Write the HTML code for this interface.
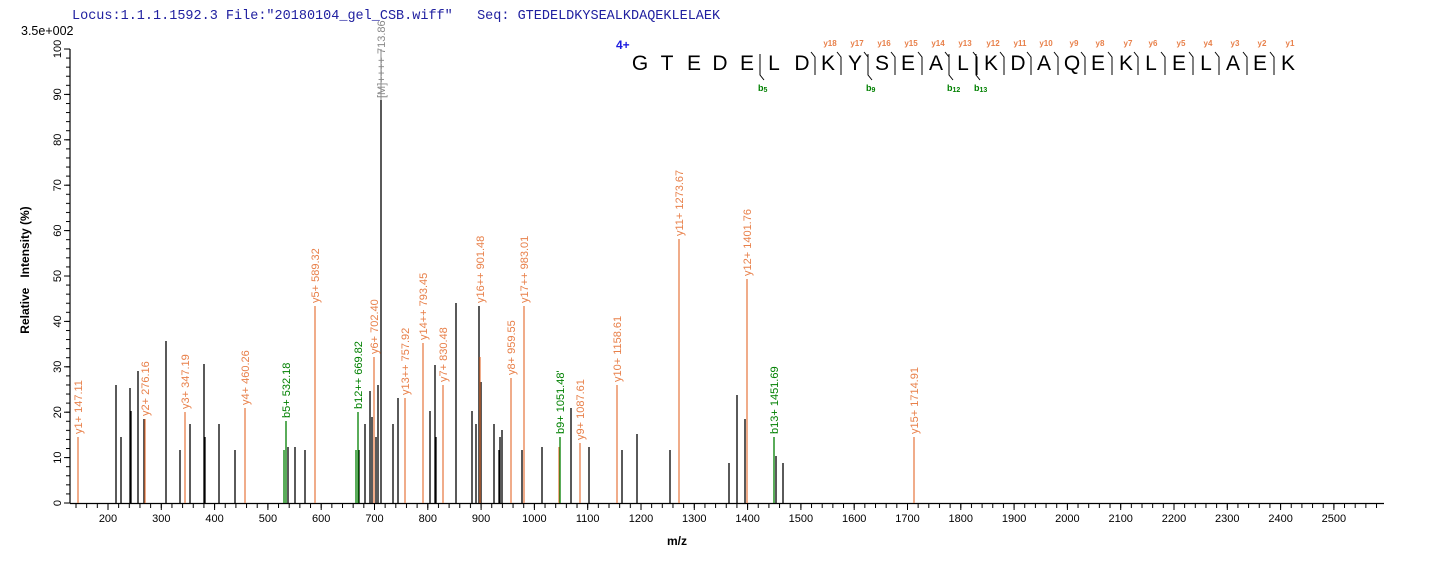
<!DOCTYPE html>
<html><head><meta charset="utf-8"><style>
html,body{margin:0;padding:0;background:#fff;}
svg{display:block;font-family:"Liberation Sans",Arial,sans-serif;}
text{white-space:pre;}
.o{stroke:#e8804a;stroke-width:1.3}
.g{stroke:#008000;stroke-width:1.3}
.k{stroke:#000;stroke-width:1.3}
.lo{fill:#e8804a;font-size:11px}
.lg{fill:#008000;font-size:11px}
</style></head><body>
<svg width="1436" height="562" viewBox="0 0 1436 562" xmlns="http://www.w3.org/2000/svg" xml:space="preserve">
<defs>
<pattern id="pmin" patternUnits="userSpaceOnUse" x="75.5" y="0" width="10.66" height="20"><line x1="0.5" y1="0" x2="0.5" y2="20" stroke="#000" stroke-width="1"/></pattern>
<pattern id="pmaj" patternUnits="userSpaceOnUse" x="107.5" y="0" width="53.3" height="20"><line x1="0.5" y1="0" x2="0.5" y2="20" stroke="#000" stroke-width="1"/></pattern>
<pattern id="pym" patternUnits="userSpaceOnUse" x="0" y="48.5" width="10" height="9.08"><line x1="0" y1="0.5" x2="10" y2="0.5" stroke="#000" stroke-width="1"/></pattern>
</defs>
<text x="72" y="19" font-family="Liberation Mono,monospace" font-size="13.5" fill="#2020a0">Locus:1.1.1.1592.3 File:"20180104_gel_CSB.wiff"   Seq: GTEDELDKYSEALKDAQEKLELAEK</text>
<text x="21" y="35" font-size="12.5" fill="#000">3.5e+002</text>

<!-- axes -->
<line x1="70" y1="49" x2="70" y2="503.5" stroke="#000" stroke-width="1.2"/>
<line x1="70" y1="503.5" x2="1384" y2="503.5" stroke="#000" stroke-width="1.2"/>
<rect x="66" y="49" width="4" height="455" fill="url(#pym)"/>
<g stroke="#000" stroke-width="1">
<line x1="64" y1="503" x2="70" y2="503"/><line x1="64" y1="457.6" x2="70" y2="457.6"/><line x1="64" y1="412.2" x2="70" y2="412.2"/><line x1="64" y1="366.8" x2="70" y2="366.8"/><line x1="64" y1="321.4" x2="70" y2="321.4"/><line x1="64" y1="276" x2="70" y2="276"/><line x1="64" y1="230.6" x2="70" y2="230.6"/><line x1="64" y1="185.2" x2="70" y2="185.2"/><line x1="64" y1="139.8" x2="70" y2="139.8"/><line x1="64" y1="94.4" x2="70" y2="94.4"/><line x1="64" y1="49" x2="70" y2="49"/>
</g>
<rect x="75" y="503" width="1303" height="5" fill="url(#pmin)"/>
<rect x="107" y="503" width="1230" height="7" fill="url(#pmaj)"/>
<g font-size="11" fill="#000">
<text transform="translate(61,503) rotate(-90)" text-anchor="middle">0</text>
<text transform="translate(61,457.6) rotate(-90)" text-anchor="middle">10</text>
<text transform="translate(61,412.2) rotate(-90)" text-anchor="middle">20</text>
<text transform="translate(61,366.8) rotate(-90)" text-anchor="middle">30</text>
<text transform="translate(61,321.4) rotate(-90)" text-anchor="middle">40</text>
<text transform="translate(61,276) rotate(-90)" text-anchor="middle">50</text>
<text transform="translate(61,230.6) rotate(-90)" text-anchor="middle">60</text>
<text transform="translate(61,185.2) rotate(-90)" text-anchor="middle">70</text>
<text transform="translate(61,139.8) rotate(-90)" text-anchor="middle">80</text>
<text transform="translate(61,94.4) rotate(-90)" text-anchor="middle">90</text>
<text transform="translate(61,49) rotate(-90)" text-anchor="middle">100</text>
</g>
<g font-size="11" fill="#000" text-anchor="middle">
<text x="108" y="522">200</text><text x="161.3" y="522">300</text><text x="214.6" y="522">400</text><text x="267.9" y="522">500</text><text x="321.2" y="522">600</text><text x="374.5" y="522">700</text><text x="427.8" y="522">800</text><text x="481.1" y="522">900</text><text x="534.4" y="522">1000</text><text x="587.7" y="522">1100</text><text x="641" y="522">1200</text><text x="694.3" y="522">1300</text><text x="747.6" y="522">1400</text><text x="800.9" y="522">1500</text><text x="854.2" y="522">1600</text><text x="907.5" y="522">1700</text><text x="960.8" y="522">1800</text><text x="1014.1" y="522">1900</text><text x="1067.4" y="522">2000</text><text x="1120.7" y="522">2100</text><text x="1174" y="522">2200</text><text x="1227.3" y="522">2300</text><text x="1280.6" y="522">2400</text><text x="1333.9" y="522">2500</text>
</g>
<text transform="translate(29,270) rotate(-90)" text-anchor="middle" font-size="12" font-weight="bold">Relative   Intensity (%)</text>
<text x="677" y="545" text-anchor="middle" font-size="12" font-weight="bold">m/z</text>

<!-- black peaks -->
<g class="k">
<line x1="116" y1="503" x2="116" y2="385"/><line x1="121" y1="503" x2="121" y2="437"/><line x1="130" y1="503" x2="130" y2="388"/><line x1="131" y1="503" x2="131" y2="411"/><line x1="138" y1="503" x2="138" y2="371"/><line x1="144" y1="503" x2="144" y2="419"/><line x1="166" y1="503" x2="166" y2="341"/><line x1="180" y1="503" x2="180" y2="450"/><line x1="190" y1="503" x2="190" y2="424"/><line x1="204" y1="503" x2="204" y2="364"/><line x1="205" y1="503" x2="205" y2="437"/><line x1="219" y1="503" x2="219" y2="424"/><line x1="235" y1="503" x2="235" y2="450"/><line x1="288" y1="503" x2="288" y2="447"/><line x1="295" y1="503" x2="295" y2="447"/><line x1="305" y1="503" x2="305" y2="450"/><line x1="359" y1="503" x2="359" y2="450"/><line x1="365" y1="503" x2="365" y2="424"/><line x1="370" y1="503" x2="370" y2="391"/><line x1="372" y1="503" x2="372" y2="417"/><line x1="376" y1="503" x2="376" y2="437"/><line x1="378" y1="503" x2="378" y2="385"/><line x1="381" y1="503" x2="381" y2="100"/><line x1="393" y1="503" x2="393" y2="424"/><line x1="398" y1="503" x2="398" y2="398"/><line x1="430" y1="503" x2="430" y2="411"/><line x1="435" y1="503" x2="435" y2="365"/><line x1="436" y1="503" x2="436" y2="437"/><line x1="456" y1="503" x2="456" y2="303"/><line x1="472" y1="503" x2="472" y2="411"/><line x1="476" y1="503" x2="476" y2="424"/><line x1="479" y1="503" x2="479" y2="306"/><line x1="481" y1="503" x2="481" y2="382"/><line x1="494" y1="503" x2="494" y2="424"/><line x1="499" y1="503" x2="499" y2="450"/><line x1="500" y1="503" x2="500" y2="437"/><line x1="502" y1="503" x2="502" y2="430"/><line x1="522" y1="503" x2="522" y2="450"/><line x1="542" y1="503" x2="542" y2="447"/><line x1="571" y1="503" x2="571" y2="408"/><line x1="589" y1="503" x2="589" y2="447"/><line x1="622" y1="503" x2="622" y2="450"/><line x1="637" y1="503" x2="637" y2="434"/><line x1="670" y1="503" x2="670" y2="450"/><line x1="729" y1="503" x2="729" y2="463"/><line x1="737" y1="503" x2="737" y2="395"/><line x1="745" y1="503" x2="745" y2="419"/><line x1="776" y1="503" x2="776" y2="456"/><line x1="783" y1="503" x2="783" y2="463"/>
</g>
<line x1="381" y1="100" x2="381" y2="49" stroke="#888" stroke-width="1"/>
<text transform="translate(385,98) rotate(-90)" font-size="11" fill="#888">[M]++++ 713.86</text>

<!-- orange peaks -->
<g class="o">
<line x1="78" y1="503" x2="78" y2="437"/><line x1="145" y1="503" x2="145" y2="419"/><line x1="185" y1="503" x2="185" y2="412"/><line x1="245" y1="503" x2="245" y2="408"/><line x1="315" y1="503" x2="315" y2="306"/><line x1="374" y1="503" x2="374" y2="357"/><line x1="405" y1="503" x2="405" y2="398"/><line x1="423" y1="503" x2="423" y2="343"/><line x1="443" y1="503" x2="443" y2="385"/><line x1="480" y1="503" x2="480" y2="357"/><line x1="511" y1="503" x2="511" y2="378"/><line x1="524" y1="503" x2="524" y2="306"/><line x1="559" y1="503" x2="559" y2="447"/><line x1="580" y1="503" x2="580" y2="443"/><line x1="617" y1="503" x2="617" y2="385"/><line x1="679" y1="503" x2="679" y2="239"/><line x1="747" y1="503" x2="747" y2="279"/><line x1="914" y1="503" x2="914" y2="437"/>
</g>
<g class="g">
<line x1="284" y1="503" x2="284" y2="450"/><line x1="286" y1="503" x2="286" y2="421"/><line x1="356" y1="503" x2="356" y2="450"/><line x1="358" y1="503" x2="358" y2="412"/><line x1="560" y1="503" x2="560" y2="437"/><line x1="774" y1="503" x2="774" y2="437"/>
</g>
<g class="lo">
<text transform="translate(82,434) rotate(-90)">y1+ 147.11</text>
<text transform="translate(149,416) rotate(-90)">y2+ 276.16</text>
<text transform="translate(189,409) rotate(-90)">y3+ 347.19</text>
<text transform="translate(249,405) rotate(-90)">y4+ 460.26</text>
<text transform="translate(319,303) rotate(-90)">y5+ 589.32</text>
<text transform="translate(378,354) rotate(-90)">y6+ 702.40</text>
<text transform="translate(409,395) rotate(-90)">y13++ 757.92</text>
<text transform="translate(427,340) rotate(-90)">y14++ 793.45</text>
<text transform="translate(447,382) rotate(-90)">y7+ 830.48</text>
<text transform="translate(484,303) rotate(-90)">y16++ 901.48</text>
<text transform="translate(515,375) rotate(-90)">y8+ 959.55</text>
<text transform="translate(528,303) rotate(-90)">y17++ 983.01</text>
<text transform="translate(584,440) rotate(-90)">y9+ 1087.61</text>
<text transform="translate(621,382) rotate(-90)">y10+ 1158.61</text>
<text transform="translate(683,236) rotate(-90)">y11+ 1273.67</text>
<text transform="translate(751,276) rotate(-90)">y12+ 1401.76</text>
<text transform="translate(918,434) rotate(-90)">y15+ 1714.91</text>
</g>
<g class="lg">
<text transform="translate(290,418) rotate(-90)">b5+ 532.18</text>
<text transform="translate(362,409) rotate(-90)">b12++ 669.82</text>
<text transform="translate(564,434) rotate(-90)">b9+ 1051.48'</text>
<text transform="translate(778,434) rotate(-90)">b13+ 1451.69</text>
</g>

<!-- sequence -->
<text x="616" y="49" font-size="12" font-weight="bold" fill="#1a1ae0">4+</text>
<g font-size="21" fill="#000" text-anchor="middle">
<text x="640" y="70">G</text><text x="667" y="70">T</text><text x="694" y="70">E</text><text x="720" y="70">D</text><text x="747" y="70">E</text><text x="774" y="70">L</text><text x="802" y="70">D</text><text x="828" y="70">K</text><text x="855" y="70">Y</text><text x="882" y="70">S</text><text x="908" y="70">E</text><text x="936" y="70">A</text><text x="963" y="70">L</text><text x="991" y="70">K</text><text x="1018" y="70">D</text><text x="1044" y="70">A</text><text x="1072" y="70">Q</text><text x="1098" y="70">E</text><text x="1126" y="70">K</text><text x="1151" y="70">L</text><text x="1179" y="70">E</text><text x="1206" y="70">L</text><text x="1233" y="70">A</text><text x="1260" y="70">E</text><text x="1288" y="70">K</text>
</g>
<g stroke="#000" stroke-width="1" fill="none">
<path d="M811,52 L815,57 V75"/><path d="M837,52 L841,57 V75"/><path d="M864,52 L868,57 V75"/><path d="M891,52 L895,57 V75"/><path d="M918,52 L922,57 V75"/><path d="M945,52 L949,57 V75"/><path d="M973,52 L977,57 V75"/><path d="M1000,52 L1004,57 V75"/><path d="M1027,52 L1031,57 V75"/><path d="M1054,52 L1058,57 V75"/><path d="M1081,52 L1085,57 V75"/><path d="M1108,52 L1112,57 V75"/><path d="M1134,52 L1138,57 V75"/><path d="M1161,52 L1165,57 V75"/><path d="M1189,52 L1193,57 V75"/><path d="M1215,52 L1219,57 V75"/><path d="M1243,52 L1247,57 V75"/><path d="M1270,52 L1274,57 V75"/>
<path d="M760,54 V75 L764,80"/><path d="M868,54 V75 L872,80"/><path d="M949,54 V75 L953,80"/><path d="M976,54 V75 L980,80"/>
</g>
<g font-size="8" font-weight="bold" fill="#e8804a" text-anchor="middle">
<text x="830" y="46">y18</text><text x="857" y="46">y17</text><text x="884" y="46">y16</text><text x="911" y="46">y15</text><text x="938" y="46">y14</text><text x="965" y="46">y13</text><text x="993" y="46">y12</text><text x="1020" y="46">y11</text><text x="1046" y="46">y10</text><text x="1074" y="46">y9</text><text x="1100" y="46">y8</text><text x="1128" y="46">y7</text><text x="1153" y="46">y6</text><text x="1181" y="46">y5</text><text x="1208" y="46">y4</text><text x="1235" y="46">y3</text><text x="1262" y="46">y2</text><text x="1290" y="46">y1</text>
</g>
<g font-size="9" font-weight="bold" fill="#008000">
<text x="758" y="91">b<tspan font-size="7" dy="1">5</tspan></text>
<text x="866" y="91">b<tspan font-size="7" dy="1">9</tspan></text>
<text x="947" y="91">b<tspan font-size="7" dy="1">12</tspan></text>
<text x="974" y="91">b<tspan font-size="7" dy="1">13</tspan></text>
</g>
</svg>
</body></html>
